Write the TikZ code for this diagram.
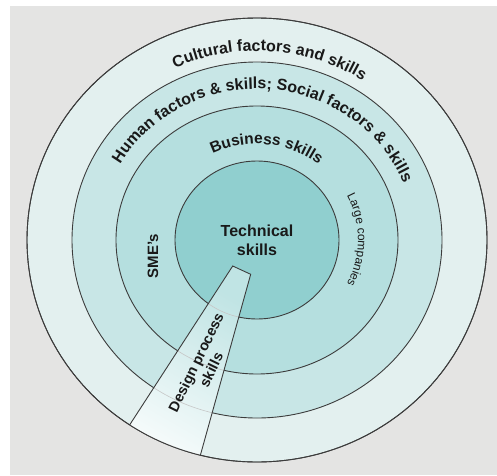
\documentclass[tikz,border=0pt]{standalone}
\usepackage{fontspec}
\setmainfont{Liberation Sans}
\usetikzlibrary{decorations.text,calc}
\definecolor{bggrey}{RGB}{228,228,227}
\definecolor{ringA}{RGB}{227,240,239}
\definecolor{ringB}{RGB}{200,230,230}
\definecolor{ringC}{RGB}{181,223,223}
\definecolor{ringD}{RGB}{144,207,207}
\definecolor{edge}{RGB}{60,60,60}
\definecolor{ink}{RGB}{25,25,25}
\begin{document}
\begin{tikzpicture}[x=1pt,y=1pt,
  ring/.style={draw=edge, line width=0.9pt},
  faint/.style={draw=gray!45, line width=0.6pt},
  lbl/.style={font=\bfseries\fontsize{16}{19}\selectfont, text=ink, inner sep=0pt},
  arclbl/.style={decorate, decoration={text along path, text align=center, text color=ink}}
  ]
\useasboundingbox (0,0) rectangle (497,475);
\fill[bggrey] (10,0) rectangle (497,469);
\coordinate (c) at (257,235);
% rings
\filldraw[ring, fill=ringA] (c) ellipse [x radius=230, y radius=222];
\filldraw[ring, fill=ringB] (c) ellipse [x radius=185, y radius=178];
\filldraw[ring, fill=ringC] (c) ellipse [x radius=141, y radius=134];
\filldraw[ring, fill=ringD] (c) ellipse [x radius=82, y radius=79];
% wedge
\coordinate (wA) at (232.7,209);
\coordinate (wB) at (250.7,200.7);
\coordinate (wC) at (200.7,21);
\coordinate (wD) at (130.7,51.7);
\begin{scope}
  \clip (c) ellipse [x radius=230, y radius=222];
  \shade[top color=ringC!85!white, bottom color=white, shading angle=-30]
    (wA) -- (wB) -- ($(wB)!1.2!(wC)$) -- ($(wA)!1.2!(wD)$) -- cycle;
  \begin{scope}
    \clip (wA) -- (wB) -- ($(wB)!1.2!(wC)$) -- ($(wA)!1.2!(wD)$) -- cycle;
    \draw[faint] (c) ellipse [x radius=185, y radius=178];
    \draw[faint] (c) ellipse [x radius=141, y radius=134];
    \draw[faint] (c) ellipse [x radius=82, y radius=79];
  \end{scope}
  \draw[ring] ($(wA)!1.2!(wD)$) -- (wA) -- (wB) -- ($(wB)!1.2!(wC)$);
\end{scope}
\draw[ring] (c) ellipse [x radius=230, y radius=222];
% curved labels
\path[arclbl, decoration={text={|\bfseries\fontsize{16}{16}\selectfont|Cultural factors and skills}}]
  (c) ++(146:197 and 189) arc[start angle=146, end angle=26, x radius=197, y radius=189];
\path[arclbl, decoration={text={|\bfseries\fontsize{16}{16}\selectfont|Human factors {\&} skills; Social factors {\&} skills}}]
  (c) ++(166:158 and 151) arc[start angle=166, end angle=6, x radius=158, y radius=151];
\path[arclbl, decoration={text={|\bfseries\fontsize{15.5}{15.5}\selectfont|Business skills}}]
  (c) ++(154:100 and 96) arc[start angle=154, end angle=14, x radius=100, y radius=96];
\path[arclbl, decoration={text={|\fontsize{12}{12}\selectfont|Large companies}}]
  (c) ++(70:101 and 97) arc[start angle=70, end angle=-70, x radius=101, y radius=97];
% straight labels
\node[lbl, align=center] (tech) at (257,234.5) {Technical\\skills};
\node[lbl, font=\bfseries\fontsize{15}{15}\selectfont, rotate=90] (sme) at (153,219) {SME's};
\node[lbl, font=\bfseries\fontsize{14.5}{17}\selectfont, rotate=64, align=center] (dps) at (203.5,109) {Design process\\skills};
\end{tikzpicture}
\end{document}
